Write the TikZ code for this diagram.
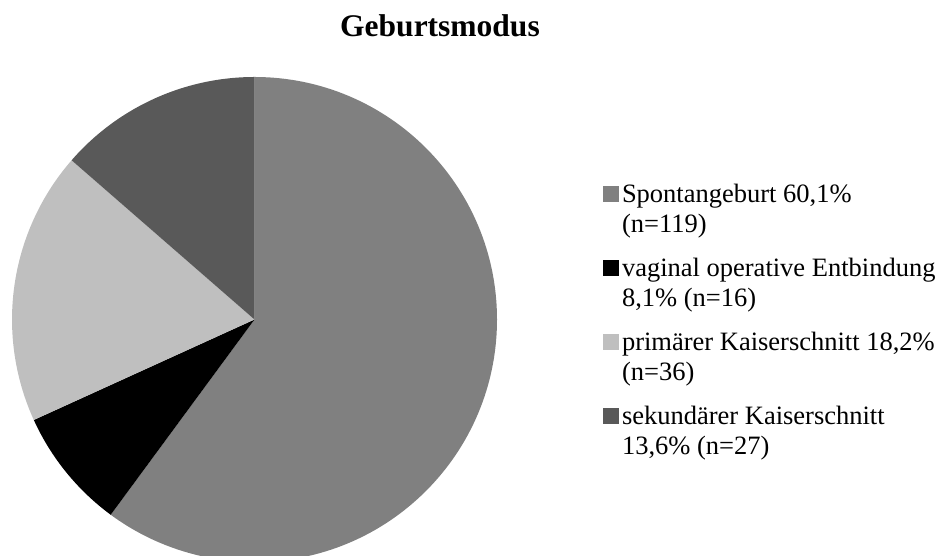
\documentclass[tikz,border=0pt]{standalone}
\usepackage{fontspec}
\setmainfont{Liberation Serif}
\usetikzlibrary{positioning}
\definecolor{spontan}{gray}{0.5}
\definecolor{vaginal}{gray}{0}
\definecolor{primaer}{gray}{0.75}
\definecolor{sekundaer}{gray}{0.35}
\tikzset{legbox/.style={shape=rectangle, inner sep=0pt, outer sep=0pt, minimum size=16pt}}
\tikzset{legtext/.style={anchor=base west, inner sep=0pt, outer sep=0pt, align=left, font=\fontsize{26.5}{30}\selectfont}}

\begin{document}
\begin{tikzpicture}[x=1pt,y=1pt]
\useasboundingbox (0,0) rectangle (940,556) ;
\node[anchor=base, font=\fontsize{31.5}{36}\selectfont\bfseries] (titel) at (440,519) {Geburtsmodus} ;
\begin{scope}
\clip (0,0) rectangle (940,556) ;
\coordinate (mitte) at (254.5,236.5) ;
\foreach \a/\b/\c in {90/-126.36/spontan, -126.36/-155.52/vaginal, -155.52/-221.04/primaer, -221.04/-270/sekundaer}
{
	\fill[\c] (mitte) -- ++(\a:242.5) arc[start angle=\a, end angle=\b, radius=242.5] -- cycle ;
}
\end{scope}
\foreach \i/\c/\t in {1/spontan/{Spontangeburt 60,1\%\\(n=119)}, 2/vaginal/{vaginal operative Entbindung\\8,1\% (n=16)}, 3/primaer/{primärer Kaiserschnitt 18,2\%\\(n=36)}, 4/sekundaer/{sekundärer Kaiserschnitt\\13,6\% (n=27)}}
{
	\pgfmathsetmacro{\yb}{323-74*(\i-1)} ;
	\node[legtext] (t\i) at (622,\yb) {\t} ;
	\node[legbox, fill=\c, anchor=south east, xshift=-3pt, yshift=31pt] (k\i) at (t\i.base west) {} ;
}
\end{tikzpicture}
\end{document}
